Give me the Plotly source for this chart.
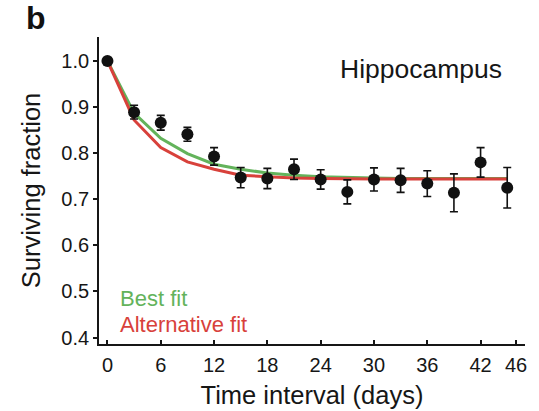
import plotly.graph_objects as go

# Time since labelling (days) and measured surviving fraction with SEM
days = [0, 3, 6, 9, 12, 15, 18, 21, 24, 27, 30, 33, 36, 39, 42, 45]
surviving = [1.0, 0.889, 0.866, 0.841, 0.793, 0.747, 0.745, 0.765,
             0.743, 0.716, 0.743, 0.741, 0.734, 0.714, 0.780, 0.725]
sem = [0.0, 0.015, 0.016, 0.015, 0.019, 0.022, 0.022, 0.022,
       0.021, 0.026, 0.025, 0.026, 0.028, 0.041, 0.032, 0.044]

# Model curves evaluated at the same time points
best_fit = [1.0, 0.887, 0.832, 0.799, 0.776, 0.765, 0.757, 0.752,
            0.749, 0.747, 0.746, 0.745, 0.745, 0.745, 0.745, 0.745]
alt_fit = [1.0, 0.872, 0.812, 0.781, 0.765, 0.752, 0.749, 0.746,
           0.745, 0.744, 0.744, 0.744, 0.744, 0.744, 0.744, 0.744]

x_ticks = [0, 6, 12, 18, 24, 30, 36, 42, 46]
y_ticks = [0.4, 0.5, 0.6, 0.7, 0.8, 0.9, 1.0]

GREEN = "#63b35b"
RED = "#d8413b"
INK = "#161616"
FONT = "Liberation Sans, Arial, Helvetica, sans-serif"

fig = go.Figure()
fig.add_trace(go.Scatter(x=days, y=best_fit, mode="lines",
                         line=dict(color=GREEN, width=3), showlegend=False))
fig.add_trace(go.Scatter(x=days, y=alt_fit, mode="lines",
                         line=dict(color=RED, width=3), showlegend=False))
fig.add_trace(go.Scatter(
    x=days, y=surviving, mode="markers",
    marker=dict(color="#111111", size=12),
    error_y=dict(type="data", array=sem, visible=True,
                 color="#111111", thickness=1.6, width=4),
    showlegend=False))

fig.update_layout(
    width=539, height=411,
    margin=dict(l=99, r=14, t=37, b=67, pad=0),
    paper_bgcolor="white", plot_bgcolor="white",
    font=dict(family=FONT, color=INK),
)
fig.update_xaxes(
    range=[-0.95, 47], tickvals=x_ticks, ticktext=[str(v) for v in x_ticks],
    showgrid=False, zeroline=False, showline=True, linecolor=INK,
    linewidth=1.8, ticks="inside", ticklen=4, tickwidth=1.5,
    tickcolor=INK, tickfont=dict(size=20), ticklabelstandoff=2,
    automargin=False,
    title=dict(text="Time interval (days)", font=dict(size=25.5), standoff=11),
)
fig.update_yaxes(
    range=[0.386, 1.052], tickvals=y_ticks, tickformat=".1f",
    showgrid=False, zeroline=False, showline=True, linecolor=INK,
    linewidth=1.8, ticks="outside", ticklen=4, tickwidth=1.5,
    tickcolor=INK, tickfont=dict(size=20), automargin=False,
    title=dict(text="Surviving fraction", font=dict(size=25.5), standoff=13),
)

fig.add_annotation(text="<b>b</b>", xref="paper", yref="paper",
                   x=-99 / 426, y=1 + 37 / 307, xanchor="left", yanchor="top",
                   xshift=24, yshift=2, showarrow=False,
                   font=dict(size=32, color="#111111"))
fig.add_annotation(text="Hippocampus", xref="paper", yref="paper",
                   x=1, y=1, xanchor="right", yanchor="top",
                   xshift=-21, yshift=-15, showarrow=False,
                   font=dict(size=26.5, color=INK))
fig.add_annotation(text="Best fit", xref="paper", yref="paper",
                   x=0, y=0, xanchor="left", yanchor="bottom",
                   xshift=19, yshift=31, showarrow=False,
                   font=dict(size=22, color=GREEN))
fig.add_annotation(text="Alternative fit", xref="paper", yref="paper",
                   x=0, y=0, xanchor="left", yanchor="bottom",
                   xshift=19, yshift=5, showarrow=False,
                   font=dict(size=22, color=RED))

fig.write_html("out.html")
